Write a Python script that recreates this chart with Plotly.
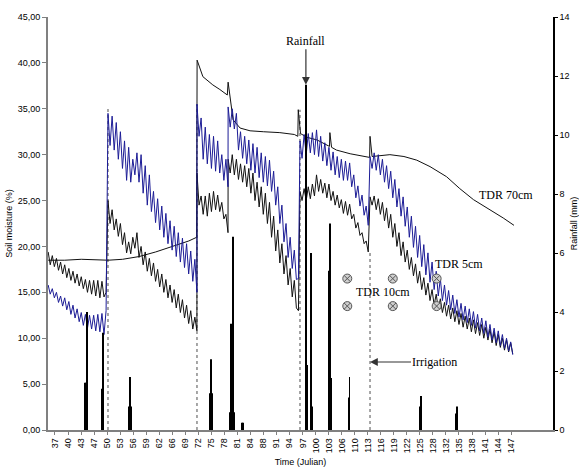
import plotly.graph_objects as go

# ---------------------------------------------------------------
# Soil moisture from TDR probes and rainfall, Julian days 36-149
# ---------------------------------------------------------------

# Start (Julian day) of each wetting period; probe readings inside a
# period are logged every 12 hours from that start.
period_start = [36.0, 50.46, 71.97, 79.5, 96.87, 113.8]
step_days = 0.5

# TDR 5 cm readings (% vol.)
tdr5_periods = [
    [15.8, 14.8, 15.4, 14.4, 15.0, 13.9, 14.6, 13.5, 14.4, 13.1, 14.0, 12.6, 13.6, 12.2,
     13.2, 11.8, 12.8, 11.4, 12.6, 11.1, 12.5, 11.0, 12.5, 10.8, 12.6, 10.7, 12.7, 10.4, 13.0],
    [34.5, 31.0, 34.2, 30.5, 33.5, 29.5, 32.5, 28.5, 31.5, 27.2, 30.8, 27.0, 29.5, 27.8,
     30.2, 27.0, 30.0, 25.8, 28.8, 24.5, 27.8, 23.8, 26.0, 22.6, 25.2, 21.8, 24.4, 21.0,
     23.6, 20.3, 22.8, 19.6, 22.2, 18.9, 21.5, 18.3, 20.9, 17.7, 20.3, 17.0, 19.5, 16.2,
     18.6, 15.0],
    [35.5, 32.0, 34.0, 29.5, 33.0, 29.0, 32.2, 28.5, 32.0, 28.2, 31.5, 28.0, 30.0, 27.2,
     29.5, 26.5],
    [35.2, 33.0, 35.0, 32.8, 34.5, 30.5, 32.5, 29.6, 32.0, 29.0, 31.6, 28.3, 31.2, 28.0,
     30.8, 27.5, 30.2, 27.0, 29.8, 26.6, 29.4, 26.0, 28.2, 24.5, 26.5, 22.5, 24.5, 20.5,
     22.5, 18.8, 21.0, 17.6, 19.6, 16.4, 16.5],
    [31.5, 29.6, 32.2, 30.0, 32.3, 30.2, 32.4, 30.0, 32.7, 29.8, 32.0, 29.3, 31.3, 28.8,
     30.8, 28.3, 30.3, 27.8, 29.8, 27.5, 29.5, 27.2, 29.3, 27.2, 29.1, 26.5, 27.8, 25.3,
     26.6, 24.4, 25.6, 23.4, 24.4, 22.3],
    [29.8, 28.5, 30.2, 28.3, 30.0, 27.8, 29.5, 27.0, 28.8, 26.3, 28.2, 25.3, 27.3, 24.3,
     26.3, 23.3, 25.4, 22.2, 24.3, 21.0, 23.3, 19.9, 22.2, 18.8, 21.2, 17.8, 20.2, 16.9,
     19.3, 16.1, 18.3, 15.3, 17.3, 14.6, 16.5, 14.1, 15.8, 13.6, 15.2, 13.1, 14.7, 12.7,
     14.2, 12.3, 13.8, 12.0, 13.5, 11.7, 13.2, 11.4, 12.9, 11.1, 12.6, 10.8, 12.2, 10.5,
     11.9, 10.1, 11.5, 9.8, 11.1, 9.5, 10.8, 9.2, 10.4, 8.9, 10.0, 8.6, 9.6, 8.2],
]

# TDR 10 cm readings (% vol.)
tdr10_periods = [
    [19.4, 18.0, 19.0, 17.8, 18.7, 17.4, 18.3, 17.0, 18.0, 16.6, 17.6, 16.3, 17.3, 16.0,
     17.0, 15.7, 16.7, 15.4, 16.4, 15.0, 16.3, 14.8, 16.3, 14.6, 16.3, 14.4, 16.2, 14.5, 15.0],
    [25.0, 22.5, 24.0, 21.8, 23.0, 21.1, 22.5, 20.2, 21.5, 19.3, 20.5, 19.2, 21.0, 19.8,
     21.5, 18.8, 20.0, 18.0, 19.4, 17.3, 18.7, 16.8, 18.2, 16.2, 17.5, 15.6, 17.0, 15.0,
     16.4, 14.4, 15.8, 13.9, 15.3, 13.3, 14.8, 12.8, 14.2, 12.2, 13.6, 11.6, 13.0, 11.0,
     12.3, 10.8],
    [28.0, 24.5, 25.5, 23.5, 25.5, 23.3, 25.8, 23.8, 26.0, 24.0, 25.6, 23.8, 24.8, 23.0,
     23.5, 21.5],
    [29.5, 28.0, 30.0, 27.8, 29.5, 27.3, 29.0, 27.0, 28.8, 26.5, 28.5, 25.8, 28.0, 25.0,
     27.0, 24.3, 26.5, 23.5, 25.8, 22.5, 24.8, 21.0, 23.3, 19.5, 21.8, 18.2, 20.3, 17.0,
     19.0, 15.8, 17.6, 14.5, 16.3, 13.3, 13.0],
    [26.0, 25.0, 26.3, 25.0, 26.5, 25.2, 26.8, 25.5, 27.8, 26.0, 27.3, 25.8, 26.9, 25.3,
     26.8, 25.0, 26.0, 24.5, 25.6, 24.2, 25.1, 23.6, 24.9, 23.4, 24.6, 23.0, 23.5, 22.0,
     22.6, 21.2, 21.5, 20.3, 20.6, 19.4],
    [25.4, 24.5, 25.5, 24.0, 25.2, 23.5, 24.8, 22.8, 24.2, 22.0, 23.5, 21.0, 22.5, 20.0,
     21.5, 19.0, 20.5, 18.3, 19.6, 17.5, 18.8, 16.8, 18.1, 16.0, 17.3, 15.3, 16.6, 14.7,
     16.0, 14.1, 15.3, 13.6, 14.8, 13.2, 14.3, 12.8, 13.9, 12.4, 13.6, 12.1, 13.3, 11.8,
     13.0, 11.5, 12.7, 11.2, 12.4, 11.0, 12.2, 10.7, 12.0, 10.5, 11.7, 10.3, 11.5, 10.0,
     11.2, 9.8, 11.0, 9.5, 10.7, 9.2, 10.4, 9.0, 10.0, 8.7, 9.8, 8.5, 9.5, 8.3],
]

# TDR 70 cm readings (% vol.)
tdr70_day = [36.0, 40.0, 44.0, 48.0, 50.5, 54.0, 58.0, 62.0, 66.0, 70.0, 71.9,
             72.0, 73.4, 75.8, 77.5, 79.3, 79.5, 80.7, 82.4, 84.8, 88.0, 92.0, 95.5,
             96.35, 96.45, 97.0, 98.5, 101.0, 104.0, 104.1, 104.5, 105.7, 109.0,
             113.7, 113.8, 114.3, 118.6, 122.0, 125.1, 128.3, 132.3, 135.5, 138.8,
             142.8, 146.0, 148.6]
tdr70_val = [18.5, 18.5, 18.6, 18.5, 18.5, 18.6, 18.9, 19.4, 20.0, 20.6, 21.0,
             40.3, 38.5, 37.6, 37.1, 36.5, 37.9, 33.8, 32.9, 32.6, 32.5, 32.4, 32.2,
             32.0, 34.9, 32.3, 31.9, 31.6, 30.9, 32.4, 30.8, 30.5, 30.1,
             29.7, 32.0, 29.8, 30.0, 29.8, 29.4, 28.7, 27.6, 26.3, 25.1,
             24.0, 23.1, 22.3]

# Rainfall (mm per 6-hour interval)
rain_day = [44.9, 45.15, 45.4, 49.0, 49.25, 55.45, 55.7, 55.95, 75.1, 75.35, 75.6,
            79.85, 80.1, 80.35, 80.6, 80.85, 82.9, 83.15, 98.3, 98.55, 99.5, 99.75,
            103.9, 104.15, 104.4, 108.6, 108.85, 125.9, 126.15, 134.6, 134.85]
rain_mm = [1.6, 1.6, 4.0, 1.4, 3.3, 0.8, 1.8, 0.8, 1.25, 2.4, 1.25,
           0.6, 3.6, 2.95, 6.55, 0.6, 0.25, 0.25, 11.7, 2.2, 6.0, 0.8,
           5.4, 7.0, 1.76, 1.1, 1.8, 0.8, 1.15, 0.56, 0.8]

# Irrigation events and the reading reached right after each one
irrigation_day = [50.46, 71.97, 96.87, 113.8]
irrigation_top = [35.2, 35.5, 34.9, 19.3]

# Reference gravimetric samples
sample_day = [108.3, 119.3, 129.9, 108.3, 119.3, 129.9]
sample_val = [16.5, 16.5, 16.5, 13.5, 13.5, 13.5]

# Category labels along the time axis (evenly spaced)
time_labels = ["37", "40", "43", "47", "50", "53", "56", "59", "62", "66", "69", "72",
               "75", "78", "81", "84", "88", "91", "94", "97", "100", "103", "106",
               "110", "113", "116", "119", "122", "125", "128", "132", "135", "138",
               "141", "144", "147"]
label_first, label_step = 37.65, 3.15


def expand(periods):
    xs, ys = [], []
    for start, vals in zip(period_start, periods):
        for i, v in enumerate(vals):
            xs.append(start + step_days * i)
            ys.append(v)
    return xs, ys


x5, y5 = expand(tdr5_periods)
x10, y10 = expand(tdr10_periods)

irr_x, irr_y = [], []
for d, top in zip(irrigation_day, irrigation_top):
    irr_x += [d, d, None]
    irr_y += [0, top, None]

tick_pos = [label_first + label_step * k for k in range(len(time_labels))]

fig = go.Figure()

fig.add_trace(go.Bar(x=rain_day, y=rain_mm, width=0.2, yaxis="y2",
                     marker=dict(color="black", line=dict(width=0)), name="Rainfall"))

fig.add_trace(go.Scatter(x=irr_x, y=irr_y, mode="lines", name="Irrigation",
                         line=dict(color="#8a8a8a", width=1.5, dash="3px,3px")))

fig.add_trace(go.Scatter(x=tdr70_day, y=tdr70_val, mode="lines", name="TDR 70cm",
                         line=dict(color="#111111", width=1)))
fig.add_trace(go.Scatter(x=x10, y=y10, mode="lines", name="TDR 10cm",
                         line=dict(color="#111111", width=1)))
fig.add_trace(go.Scatter(x=x5, y=y5, mode="lines", name="TDR 5cm",
                         line=dict(color="#1c1c96", width=1)))

fig.add_trace(go.Scatter(x=sample_day, y=sample_val, mode="markers", name="Samples",
                         marker=dict(symbol="circle-x", size=9, color="#cfcfcf",
                                     line=dict(color="#555555", width=1))))

serif = dict(family="Liberation Serif", size=12, color="black")
fig.add_annotation(x=98.3, y=11.7, xref="x", yref="y2", text="Rainfall",
                   showarrow=True, ax=0, ay=-44, arrowhead=2, arrowsize=1.3,
                   arrowwidth=1.2, arrowcolor="#333333", font=serif)
fig.add_annotation(x=113.8, y=7.41, xref="x", yref="y", text="Irrigation",
                   showarrow=True, ax=64, ay=0, arrowhead=2, arrowsize=1.3,
                   arrowwidth=1.2, arrowcolor="#333333", font=serif, borderpad=0)
fig.add_annotation(x=146.7, y=25.6, xref="x", yref="y", text="TDR 70cm",
                   showarrow=False, font=serif)
fig.add_annotation(x=135.2, y=18.1, xref="x", yref="y", text="TDR 5cm",
                   showarrow=False, font=serif)
fig.add_annotation(x=117.0, y=15.0, xref="x", yref="y", text="TDR 10cm",
                   showarrow=False, font=serif)

tick_font = dict(family="Liberation Sans", size=9, color="black")
title_font = dict(family="Liberation Sans", size=9, color="black")

fig.update_layout(
    template="none",
    width=579, height=474,
    margin=dict(l=48, r=26, t=17, b=44),
    paper_bgcolor="white", plot_bgcolor="white",
    showlegend=False,
    separators=",.",
    barmode="overlay",
    font=dict(family="Liberation Sans", size=9, color="black"),
    xaxis=dict(range=[35.96, 158.03], tickmode="array", tickvals=tick_pos,
               ticktext=time_labels, tickangle=-90, tickfont=tick_font,
               showline=True, linecolor="#808080", linewidth=1.5,
               ticks="outside", ticklen=3, tickcolor="#808080",
               showgrid=False, zeroline=False, automargin=False,
               title=dict(text="Time (Julian)", font=title_font, standoff=6)),
    yaxis=dict(range=[0, 45], tickmode="array", tickvals=list(range(0, 46, 5)),
               tickformat=".2f", tickfont=tick_font,
               showline=True, linecolor="#808080", linewidth=2,
               ticks="outside", ticklen=4, tickcolor="#808080",
               showgrid=False, zeroline=False, automargin=False,
               title=dict(text="Soil moisture (%)", font=title_font, standoff=4)),
    yaxis2=dict(range=[0, 14], dtick=2, overlaying="y", side="right",
                tickfont=tick_font, showline=True, linecolor="black", linewidth=1.5,
                ticks="outside", ticklen=3, tickcolor="black",
                showgrid=False, zeroline=False, automargin=False,
                title=dict(text="Rainfall (mm)", font=title_font, standoff=2)),
)

fig.write_html("out.html")
